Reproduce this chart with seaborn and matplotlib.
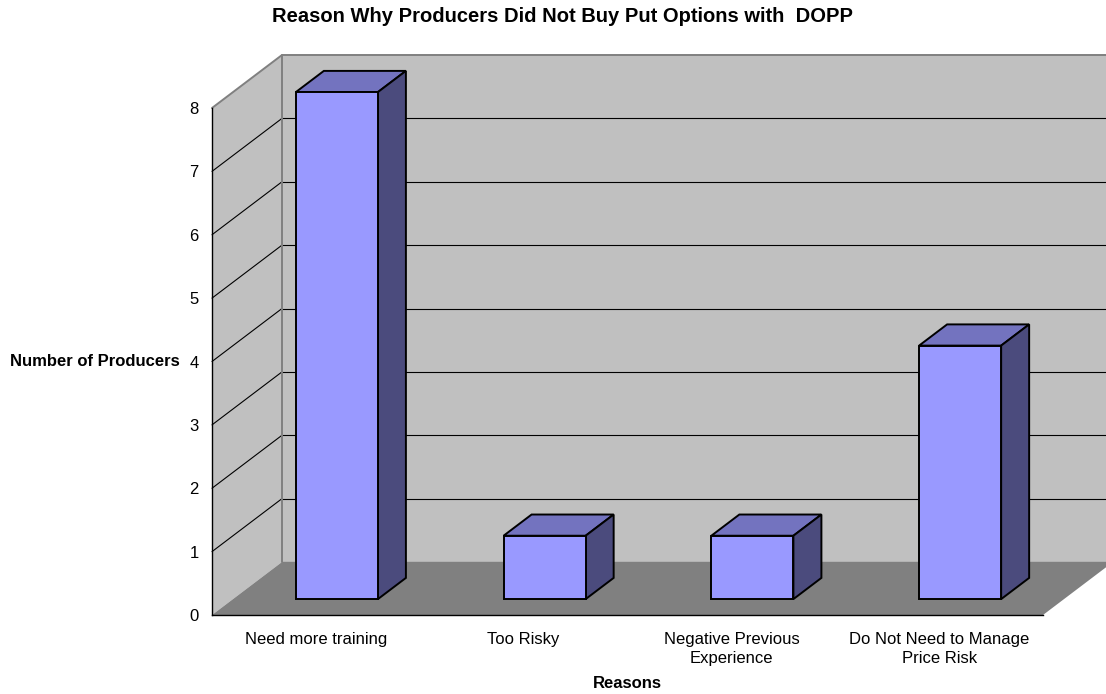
import matplotlib
matplotlib.use("Agg")
import matplotlib.pyplot as plt
from matplotlib.patches import Polygon
import seaborn as sns

# Survey data
reasons = ["Need more training", "Too Risky", "Negative Previous Experience",
           "Do Not Need to Manage Price Risk"]
producers = [8, 1, 1, 4]
tick_labels = ["Need more training", "Too Risky", "Negative Previous\nExperience",
               "Do Not Need to Manage\nPrice Risk"]
y_ticks = [0, 1, 2, 3, 4, 5, 6, 7, 8]

sns.set_style("white")
plt.rcParams["font.family"] = ["Liberation Sans", "DejaVu Sans"]
plt.rcParams["text.color"] = "black"
plt.rcParams["axes.labelcolor"] = "black"
plt.rcParams["xtick.color"] = "black"
plt.rcParams["ytick.color"] = "black"

W, H = 1106, 694
fig = plt.figure(figsize=(W / 100, H / 100), dpi=100)
ax = fig.add_axes([212 / W, (H - 615) / H, (1043 - 212) / W, (615 - 108) / H])

# Pseudo-3D depth vector (data units) and bar depth slot
DX = 70 / 831 * 4
DY = 53 / 507 * 8
F0, F1 = 0.30, 0.70
YMAX = 8
X0, X1 = -0.5, 3.5

wall_c = "#c0c0c0"
floor_c = "#808080"
edge_c = "#808080"
front_c = "#9999ff"
top_c = "#7373bf"
side_c = "#4b4b7d"

sns.barplot(x=reasons, y=producers, color=front_c, width=0.395,
            edgecolor="black", linewidth=1.4, saturation=1, ax=ax, zorder=3)
bars = list(ax.patches)

# Walls and floor
back = Polygon([(X0 + DX, DY), (X1 + DX, DY), (X1 + DX, YMAX + DY), (X0 + DX, YMAX + DY)],
               closed=True, facecolor=wall_c, edgecolor="none", zorder=0.5, clip_on=False)
left = Polygon([(X0, 0), (X0 + DX, DY), (X0 + DX, YMAX + DY), (X0, YMAX)],
               closed=True, facecolor=wall_c, edgecolor="none", zorder=0.5, clip_on=False)
floor = Polygon([(X0, 0), (X1, 0), (X1 + DX, DY), (X0 + DX, DY)],
                closed=True, facecolor=floor_c, edgecolor="none", zorder=0.6, clip_on=False)
for p in (back, left, floor):
    ax.add_patch(p)

# Gridlines on the back and side walls
for k in y_ticks[1:-1]:
    ax.plot([X0 + DX, X1 + DX], [k + DY, k + DY], color="black", lw=0.8,
            zorder=0.7, clip_on=False)
    ax.plot([X0, X0 + DX], [k, k + DY], color="black", lw=0.8,
            zorder=0.7, clip_on=False)

# Wall outlines
ax.plot([X0, X0 + DX, X1 + DX], [YMAX, YMAX + DY, YMAX + DY], color=edge_c, lw=1.4,
        zorder=0.8, clip_on=False)
ax.plot([X0 + DX, X0 + DX], [DY, YMAX + DY], color=edge_c, lw=1.4, zorder=0.8, clip_on=False)
ax.plot([X0 + DX, X1 + DX], [DY, DY], color=edge_c, lw=1.0, zorder=0.8, clip_on=False)

# Turn each front rectangle into a box
bdx = (F1 - F0) * DX
bdy = (F1 - F0) * DY
for bar in bars:
    bar.set_x(bar.get_x() + F0 * DX)
    bar.set_y(F0 * DY)
    bar.set_clip_on(False)
    x0 = bar.get_x()
    x1 = x0 + bar.get_width()
    y0 = bar.get_y()
    y1 = y0 + bar.get_height()
    top = Polygon([(x0, y1), (x1, y1), (x1 + bdx, y1 + bdy), (x0 + bdx, y1 + bdy)],
                  closed=True, facecolor=top_c, edgecolor="black", lw=1.4,
                  zorder=2.9, clip_on=False, joinstyle="miter")
    side = Polygon([(x1, y0), (x1 + bdx, y0 + bdy), (x1 + bdx, y1 + bdy), (x1, y1)],
                   closed=True, facecolor=side_c, edgecolor="black", lw=1.4,
                   zorder=2.9, clip_on=False, joinstyle="miter")
    ax.add_patch(top)
    ax.add_patch(side)

ax.set_xlim(X0, X1)
ax.set_ylim(0, YMAX)
ax.patch.set_alpha(0)

for s in ("top", "right"):
    ax.spines[s].set_visible(False)
for s in ("left", "bottom"):
    ax.spines[s].set_color("black")
    ax.spines[s].set_linewidth(1.0)
    ax.spines[s].set_zorder(4)

ax.set_yticks(y_ticks)
ax.set_yticklabels([str(v) for v in y_ticks], fontsize=12)
ax.tick_params(axis="y", length=8, width=1.0, direction="out", pad=1.5, color="black")

ax.set_xticks(range(len(reasons)))
ax.set_xticklabels(tick_labels, fontsize=12, linespacing=1.4)
ax.tick_params(axis="x", which="major", length=0, pad=12)
ax.set_xticks([-0.5, 0.5, 1.5, 2.5, 3.5], minor=True)
ax.tick_params(axis="x", which="minor", length=8, width=1.0, direction="out", color="black")

ax.set_xlabel("Reasons", fontsize=12, fontweight="bold", labelpad=7)
ax.set_ylabel("Number of Producers", fontsize=12, fontweight="bold", rotation=0,
              ha="right", va="center")
ax.yaxis.set_label_coords(-0.0385, 0.5)

fig.text(562 / W, 1 - 16 / H, "Reason Why Producers Did Not Buy Put Options with  DOPP",
         ha="center", va="center", fontsize=14.5, fontweight="bold")

fig.savefig("out.png", dpi=100)
